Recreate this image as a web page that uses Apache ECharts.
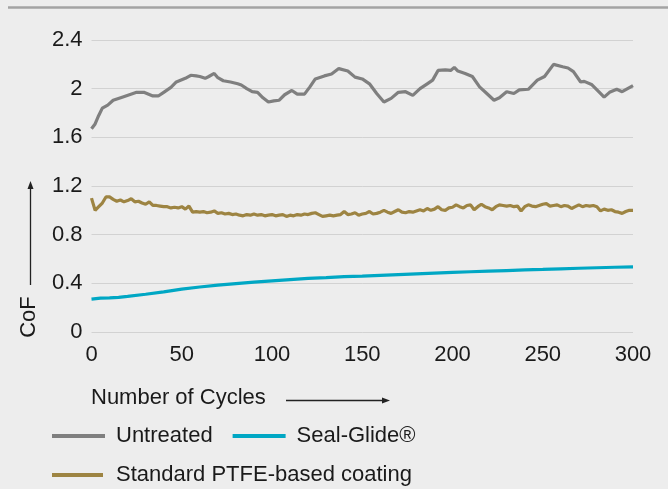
<!DOCTYPE html>
<html>
<head>
<meta charset="utf-8">
<title>CoF</title>
<script src="https://cdn.jsdelivr.net/npm/echarts@6/dist/echarts.min.js"></script>
<style>
	html, body { margin:0; padding:0; background:#ededed; }
	#chart_a { width:668px; height:489px; }
</style>
</head>
<body>
<div id="chart_a"></div>
<script>
var yTicks = [0, 0.4, 0.8, 1.2, 1.6, 2, 2.4];
var xTicks = [0, 50, 100, 150, 200, 250, 300];
var seriesNames = ['Untreated', 'Seal-Glide®', 'Standard PTFE-based coating'];

// Untreated
var untreatedCycles = [0, 2, 4, 6, 9, 12, 17, 21, 25, 29, 34, 37, 40, 44, 47, 52, 55, 58, 60, 63, 65, 68, 70, 73, 77, 81, 83, 86, 89, 92, 95, 98,
	101, 104, 107, 111, 114, 118, 121, 124, 129, 133, 137, 142, 146, 150, 154, 158, 162, 166, 170, 174, 178, 182, 186, 189, 192, 196, 199,
	201, 203, 207, 211, 215, 219, 223, 226, 230, 234, 237, 242, 247, 251, 256, 261, 264, 267, 271, 273, 277, 281, 284, 287, 291, 294, 297, 300];
var untreatedCoF = [1.67, 1.71, 1.78, 1.84, 1.865, 1.905, 1.93, 1.95, 1.97, 1.97, 1.94, 1.94, 1.97, 2.01, 2.055, 2.085, 2.11, 2.105, 2.10, 2.085, 2.10, 2.125, 2.09, 2.065, 2.055, 2.04, 2.03, 2.0, 1.975, 1.97, 1.925, 1.89,
	1.90, 1.905, 1.95, 1.985, 1.955, 1.955, 2.015, 2.08, 2.105, 2.12, 2.165, 2.145, 2.095, 2.08, 2.04, 1.96, 1.89, 1.92, 1.97, 1.975, 1.945, 2.0, 2.04, 2.07, 2.15, 2.155, 2.15,
	2.175, 2.145, 2.125, 2.10, 2.015, 1.96, 1.905, 1.925, 1.975, 1.96, 1.99, 1.995, 2.07, 2.10, 2.20, 2.18, 2.17, 2.14, 2.055, 2.06, 2.035, 1.975, 1.93, 1.97, 1.995, 1.975, 2.0, 2.025];

// Seal-Glide
var sealCycles = [0, 5, 10, 15, 20, 30, 40, 50, 60, 70, 80, 90, 100, 110, 120, 130, 140, 150, 160, 170, 180, 190, 200, 210, 220, 230, 240, 250, 260, 270, 280, 290, 300];
var sealCoF = [0.27, 0.278, 0.28, 0.285, 0.293, 0.31, 0.33, 0.352, 0.37, 0.385, 0.398, 0.41, 0.42, 0.43, 0.44, 0.447, 0.455, 0.46, 0.466, 0.472, 0.478, 0.484, 0.49, 0.495, 0.50, 0.505, 0.51, 0.514, 0.519, 0.524, 0.528, 0.532, 0.535];

// Standard PTFE-based coating, every 2 cycles
var ptfeCycles = [0, 2, 4, 6, 8, 10, 12, 14, 16, 18, 20, 22, 24, 26, 28, 30, 32, 34, 36, 38, 40, 42, 44, 46, 48, 50, 52, 54, 56, 58,
	60, 62, 64, 66, 68, 70, 72, 74, 76, 78, 80, 82, 84, 86, 88, 90, 92, 94, 96, 98, 100, 102, 104, 106, 108, 110, 112, 114, 116, 118,
	120, 122, 124, 126, 128, 130, 132, 134, 136, 138, 140, 142, 144, 146, 148, 150, 152, 154, 156, 158, 160, 162, 164, 166, 168, 170, 172, 174, 176, 178,
	180, 182, 184, 186, 188, 190, 192, 194, 196, 198, 200, 202, 204, 206, 208, 210, 212, 214, 216, 218, 220, 222, 224, 226, 228, 230, 232, 234, 236, 238,
	240, 242, 244, 246, 248, 250, 252, 254, 256, 258, 260, 262, 264, 266, 268, 270, 272, 274, 276, 278, 280, 282, 284, 286, 288, 290, 292, 294, 296, 298, 300];
var ptfeCoF = [1.10, 1.00, 1.03, 1.06, 1.11, 1.11, 1.09, 1.075, 1.085, 1.07, 1.08, 1.095, 1.07, 1.075, 1.06, 1.05, 1.07, 1.04, 1.04, 1.035, 1.03, 1.03, 1.02, 1.025, 1.02, 1.03, 1.01, 1.035, 0.985, 0.99,
	0.985, 0.99, 0.98, 0.985, 0.995, 0.975, 0.98, 0.97, 0.975, 0.965, 0.97, 0.96, 0.955, 0.965, 0.96, 0.97, 0.96, 0.965, 0.955, 0.96, 0.965, 0.955, 0.96, 0.965, 0.95, 0.96, 0.955, 0.965, 0.96, 0.97,
	0.965, 0.975, 0.98, 0.965, 0.95, 0.955, 0.96, 0.955, 0.96, 0.965, 0.99, 0.965, 0.97, 0.98, 0.96, 0.97, 0.975, 0.99, 0.97, 0.975, 0.985, 1.0, 0.985, 0.975, 0.99, 1.005, 0.985, 0.98, 0.99, 0.985,
	0.995, 1.005, 0.995, 1.015, 1.0, 1.01, 1.03, 1.005, 1.0, 1.02, 1.025, 1.045, 1.03, 1.02, 1.04, 1.045, 1.005, 1.03, 1.05, 1.03, 1.02, 1.005, 1.03, 1.045, 1.04, 1.035, 1.04, 1.03, 1.035, 0.995,
	1.03, 1.045, 1.035, 1.03, 1.04, 1.05, 1.055, 1.035, 1.04, 1.045, 1.03, 1.04, 1.035, 1.015, 1.03, 1.045, 1.03, 1.04, 1.035, 1.04, 1.03, 0.995, 1.01, 1.0, 1.005, 0.99, 0.985, 0.975, 0.99, 1.0, 1.0];

function pairs(xs, ys){
	var out = [];
	for (var i = 0; i < xs.length; i++) {
		out.push([xs[i], ys[i]]);
	}
	return out;
}

var font = "'Liberation Sans', Arial, sans-serif";
var textColor = '#1a1a1a';
var colors = ['#7f7f7f', '#00a7c4', '#9d8442'];

var mychart1 = echarts.init(document.getElementById('chart_a'));
var option1 = {
	backgroundColor: '#ededed',
	animation: false,
	color: colors,
	textStyle: { fontFamily: font },
	grid: {
		left: 91.5,
		right: 35,
		top: 40,
		bottom: 157
	},
	legend: [{
		data: [seriesNames[0], seriesNames[1]],
		left: 52,
		top: 425,
		icon: 'rect',
		itemWidth: 53,
		itemHeight: 4,
		itemGap: 20,
		padding: 0,
		textStyle: { fontSize: 22, color: textColor, fontFamily: font, padding: [0, 0, 0, 6], lineHeight: 22 }
	}, {
		data: [seriesNames[2]],
		left: 52,
		top: 464,
		icon: 'rect',
		itemWidth: 51,
		itemHeight: 4,
		padding: 0,
		textStyle: { fontSize: 22, color: textColor, fontFamily: font, padding: [0, 0, 0, 8], lineHeight: 22 }
	}],
	xAxis: {
		type: 'value',
		min: xTicks[0],
		max: xTicks[xTicks.length - 1],
		interval: 50,
		axisLine: { show: false },
		axisTick: { show: false },
		splitLine: { show: false },
		axisLabel: { fontSize: 22, color: textColor, fontFamily: font, margin: 12 }
	},
	yAxis: {
		type: 'value',
		min: yTicks[0],
		max: yTicks[yTicks.length - 1],
		interval: 0.4,
		axisLine: { show: false },
		axisTick: { show: false },
		splitLine: { show: true, lineStyle: { color: '#d2d2d2', width: 1 } },
		axisLabel: { fontSize: 22, color: textColor, fontFamily: font, margin: 9 }
	},
	graphic: [
		{ type: 'line', shape: { x1: 8, y1: 7.5, x2: 668, y2: 7.5 }, style: { stroke: '#a3a3a3', lineWidth: 2.5 } },
		{ type: 'text', x: 29, y: 317, rotation: Math.PI / 2,
			style: { text: 'CoF', fill: textColor, font: '22px ' + font, textAlign: 'center', textVerticalAlign: 'middle' } },
		{ type: 'line', shape: { x1: 30.5, y1: 285, x2: 30.5, y2: 188 }, style: { stroke: '#222', lineWidth: 1.3 } },
		{ type: 'polygon', shape: { points: [[30.5, 181], [27.5, 189], [33.5, 189]] }, style: { fill: '#222' } },
		{ type: 'text', x: 91, y: 398,
			style: { text: 'Number of Cycles', fill: textColor, font: '22px ' + font, textAlign: 'left', textVerticalAlign: 'middle' } },
		{ type: 'line', shape: { x1: 286, y1: 400.5, x2: 383, y2: 400.5 }, style: { stroke: '#222', lineWidth: 1.3 } },
		{ type: 'polygon', shape: { points: [[390, 400.5], [382, 397.5], [382, 403.5]] }, style: { fill: '#222' } }
	],
	series: [{
		name: seriesNames[0],
		type: 'line',
		symbol: 'none',
		lineStyle: { width: 3.2 },
		data: pairs(untreatedCycles, untreatedCoF)
	}, {
		name: seriesNames[1],
		type: 'line',
		symbol: 'none',
		lineStyle: { width: 3.2 },
		data: pairs(sealCycles, sealCoF)
	}, {
		name: seriesNames[2],
		type: 'line',
		symbol: 'none',
		lineStyle: { width: 3.2 },
		data: pairs(ptfeCycles, ptfeCoF)
	}]
};
mychart1.setOption(option1, true);
</script>
</body>
</html>
